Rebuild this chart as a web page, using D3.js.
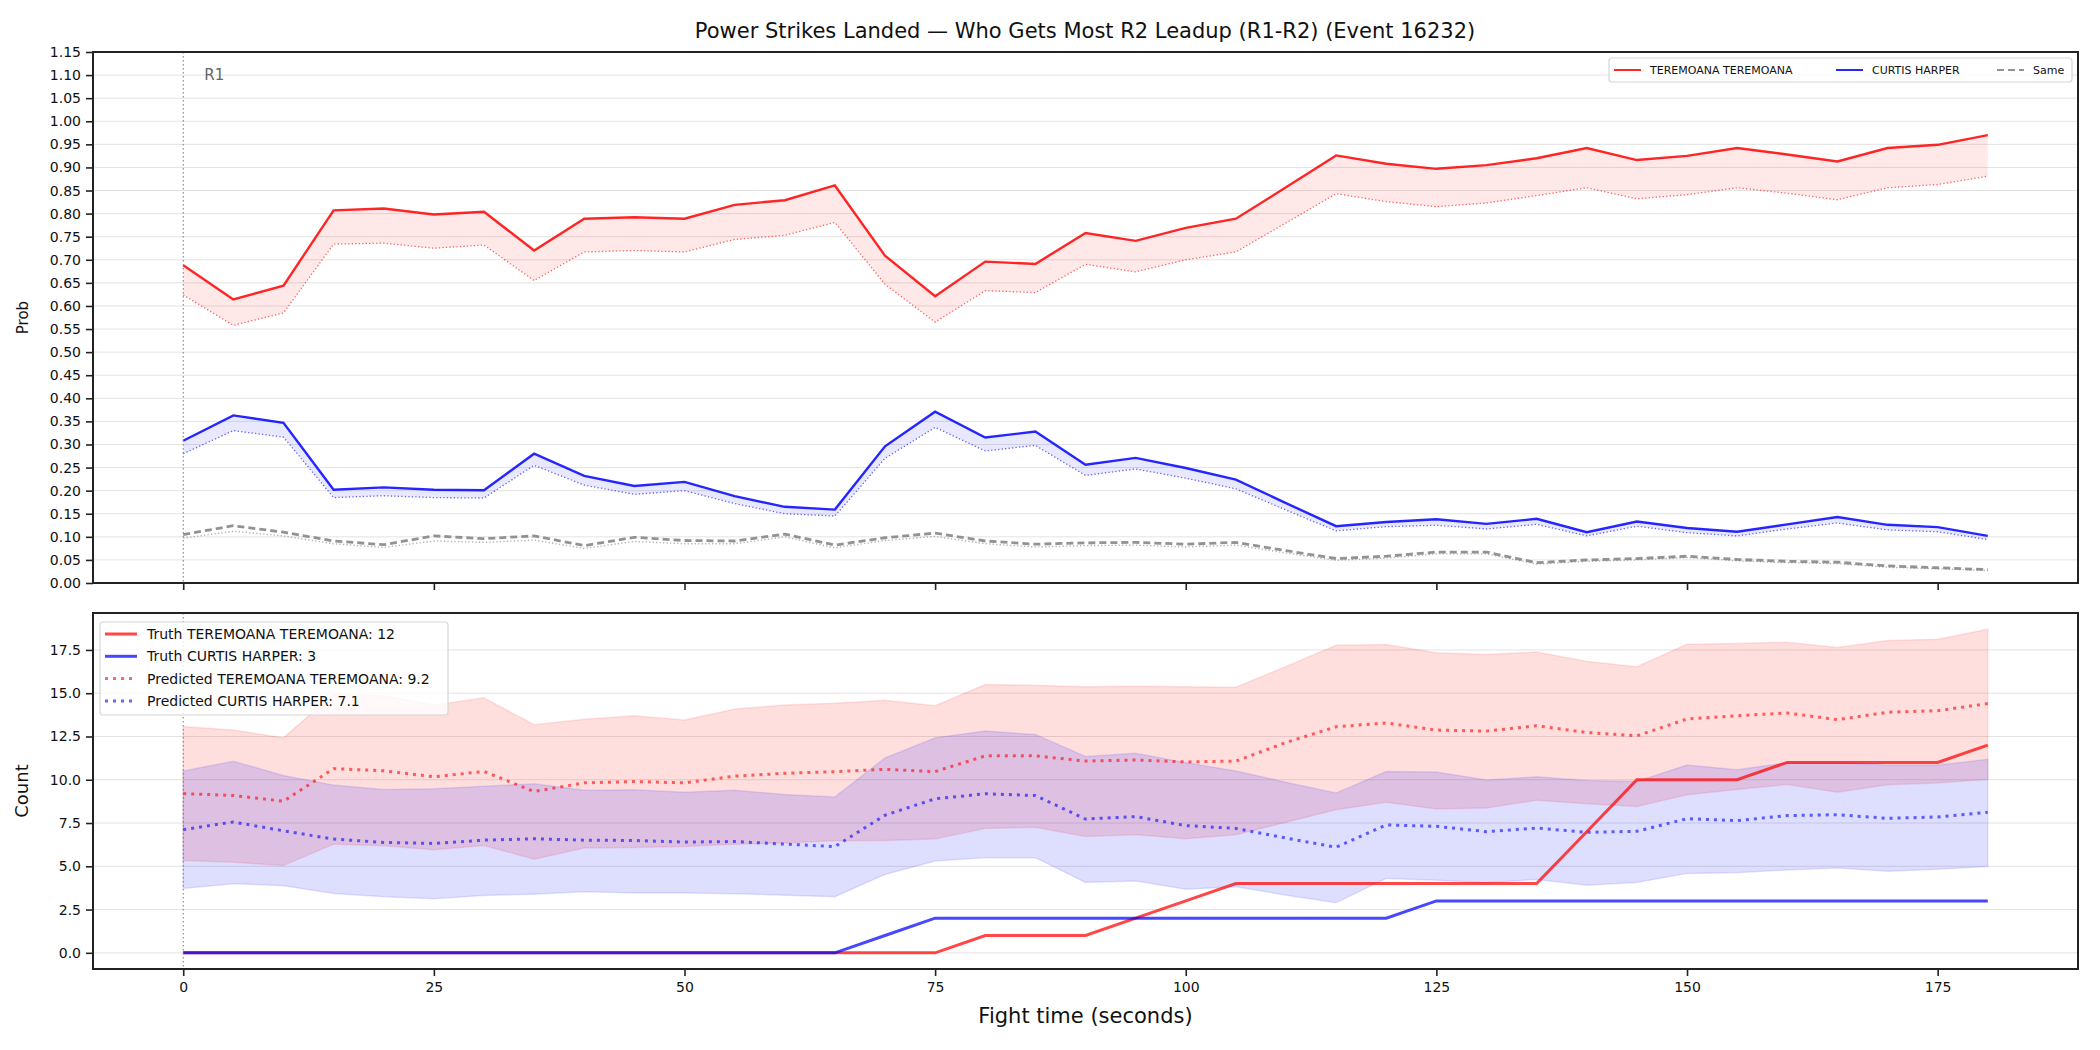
<!DOCTYPE html>
<html>
<head>
<meta charset="utf-8">
<script src="https://cdn.jsdelivr.net/npm/d3@7"></script>
<style>
  body { margin: 0; background: #fff; }
  svg { font-family: "DejaVu Sans", sans-serif; }
</style>
</head>
<body>
<div id="chart"></div>
<script>
// fight time, seconds
var times = d3.range(0, 181, 5);

// top panel: probability of landing most strikes
var redProb = [0.688, 0.614, 0.644, 0.807, 0.811, 0.798, 0.804, 0.720, 0.789, 0.792, 0.789, 0.819, 0.829, 0.861, 0.709, 0.621, 0.696, 0.691, 0.758, 0.741, 0.769, 0.789, 0.857, 0.926, 0.908, 0.897, 0.905, 0.920, 0.942, 0.916, 0.925, 0.942, 0.928, 0.913, 0.942, 0.949, 0.970];
var redProbLo = [0.624, 0.558, 0.585, 0.734, 0.736, 0.725, 0.732, 0.655, 0.717, 0.720, 0.717, 0.744, 0.753, 0.781, 0.647, 0.565, 0.633, 0.629, 0.690, 0.674, 0.700, 0.717, 0.780, 0.843, 0.826, 0.815, 0.823, 0.839, 0.856, 0.832, 0.841, 0.856, 0.844, 0.830, 0.856, 0.863, 0.881];
var blueProb = [0.308, 0.363, 0.347, 0.202, 0.207, 0.202, 0.201, 0.280, 0.232, 0.210, 0.219, 0.188, 0.165, 0.159, 0.296, 0.371, 0.315, 0.328, 0.256, 0.271, 0.249, 0.224, 0.173, 0.123, 0.132, 0.138, 0.128, 0.139, 0.110, 0.133, 0.119, 0.111, 0.127, 0.143, 0.126, 0.121, 0.102];
var blueProbLo = [0.280, 0.330, 0.316, 0.185, 0.189, 0.185, 0.184, 0.255, 0.212, 0.192, 0.200, 0.172, 0.150, 0.145, 0.270, 0.337, 0.286, 0.298, 0.233, 0.247, 0.227, 0.204, 0.158, 0.113, 0.122, 0.125, 0.117, 0.127, 0.102, 0.123, 0.109, 0.102, 0.117, 0.130, 0.115, 0.111, 0.094];
var sameProb = [0.105, 0.124, 0.110, 0.091, 0.083, 0.102, 0.096, 0.102, 0.081, 0.099, 0.092, 0.091, 0.106, 0.082, 0.098, 0.108, 0.091, 0.084, 0.087, 0.088, 0.084, 0.088, 0.070, 0.053, 0.058, 0.067, 0.067, 0.044, 0.050, 0.053, 0.058, 0.051, 0.047, 0.045, 0.037, 0.033, 0.029];
var sameProbLo = [0.097, 0.112, 0.102, 0.085, 0.077, 0.091, 0.088, 0.093, 0.075, 0.090, 0.085, 0.085, 0.100, 0.076, 0.092, 0.101, 0.085, 0.078, 0.081, 0.082, 0.078, 0.082, 0.065, 0.049, 0.054, 0.063, 0.063, 0.041, 0.047, 0.050, 0.055, 0.048, 0.044, 0.042, 0.034, 0.031, 0.027];

// bottom panel: counts
var redTruth = [0, 0, 0, 0, 0, 0, 0, 0, 0, 0, 0, 0, 0, 0, 0, 0, 1, 1, 1, 2, 3, 4, 4, 4, 4, 4, 4, 4, 7, 10, 10, 10, 11, 11, 11, 11, 12];
var blueTruth = [0, 0, 0, 0, 0, 0, 0, 0, 0, 0, 0, 0, 0, 0, 1, 2, 2, 2, 2, 2, 2, 2, 2, 2, 2, 3, 3, 3, 3, 3, 3, 3, 3, 3, 3, 3, 3];
var redPred = [9.20, 9.09, 8.76, 10.64, 10.52, 10.17, 10.48, 9.32, 9.82, 9.90, 9.82, 10.21, 10.37, 10.47, 10.60, 10.47, 11.38, 11.38, 11.08, 11.14, 11.03, 11.08, 12.15, 13.06, 13.28, 12.87, 12.81, 13.12, 12.73, 12.54, 13.51, 13.70, 13.86, 13.47, 13.90, 13.99, 14.40];
var redLo = [5.33, 5.23, 5.04, 6.28, 6.18, 5.95, 6.20, 5.41, 6.05, 6.08, 6.14, 6.28, 6.34, 6.47, 6.49, 6.57, 7.19, 7.25, 6.72, 6.82, 6.59, 6.82, 7.54, 8.27, 8.70, 8.31, 8.37, 8.82, 8.62, 8.45, 9.13, 9.44, 9.73, 9.28, 9.71, 9.81, 10.02];
var redHi = [13.08, 12.87, 12.42, 14.95, 14.85, 14.32, 14.73, 13.18, 13.50, 13.70, 13.45, 14.09, 14.32, 14.42, 14.59, 14.28, 15.50, 15.46, 15.38, 15.40, 15.38, 15.35, 16.55, 17.77, 17.81, 17.34, 17.23, 17.38, 16.84, 16.53, 17.83, 17.87, 17.95, 17.64, 18.04, 18.12, 18.70];
var bluePred = [7.12, 7.56, 7.05, 6.57, 6.38, 6.32, 6.51, 6.59, 6.51, 6.49, 6.40, 6.43, 6.28, 6.14, 7.95, 8.90, 9.19, 9.09, 7.73, 7.87, 7.35, 7.19, 6.63, 6.10, 7.39, 7.31, 7.00, 7.21, 6.96, 7.02, 7.75, 7.64, 7.93, 7.98, 7.77, 7.85, 8.12];
var blueLo = [3.72, 3.99, 3.88, 3.43, 3.24, 3.12, 3.31, 3.39, 3.53, 3.45, 3.45, 3.41, 3.33, 3.24, 4.53, 5.31, 5.50, 5.50, 4.07, 4.15, 3.68, 3.82, 3.33, 2.89, 4.30, 4.20, 4.05, 4.24, 3.90, 4.07, 4.59, 4.63, 4.79, 4.90, 4.71, 4.83, 4.98];
var blueHi = [10.50, 11.07, 10.25, 9.69, 9.44, 9.48, 9.63, 9.77, 9.40, 9.42, 9.28, 9.40, 9.15, 9.01, 11.26, 12.42, 12.81, 12.62, 11.34, 11.53, 10.99, 10.50, 9.86, 9.24, 10.47, 10.45, 9.98, 10.17, 9.96, 9.90, 10.85, 10.58, 10.99, 10.99, 10.85, 10.85, 11.18];

var redName = "TEREMOANA TEREMOANA";
var blueName = "CURTIS HARPER";
var probTicks = d3.range(0, 23.5).map(function (i) { return i * 0.05; });
var countTicks = [0, 2.5, 5, 7.5, 10, 12.5, 15, 17.5];
var timeTicks = [0, 25, 50, 75, 100, 125, 150, 175];

var width = 2100, height = 1050;
var left = 93, right = 2078;
var top1 = 52, bottom1 = 583, top2 = 613, bottom2 = 969;

var svg = d3.select("#chart").append("svg").attr("width", width).attr("height", height);

var x = d3.scaleLinear().domain([-9, 189]).range([left, right]);
var y1 = d3.scaleLinear().domain([0, 1.15]).range([bottom1, top1]);
var cMax = d3.max(redHi.concat(blueHi)), cMin = 0;
var pad = (cMax - cMin) * 0.05;
var y2 = d3.scaleLinear().domain([cMin - pad, cMax + pad]).range([bottom2, top2]);

function rows(a, b) {
    return times.map(function (t, i) { return { t: t, a: a[i], b: b ? b[i] : null }; });
}

function drawPanel(g, yScale, ticks, fmt, top, bottom) {
    // grid
    g.append("g").selectAll("line").data(ticks).join("line")
        .attr("x1", left).attr("x2", right)
        .attr("y1", function (d) { return yScale(d); }).attr("y2", function (d) { return yScale(d); })
        .attr("stroke", "#e3e3e3").attr("stroke-width", 1);
    var ya = g.append("g").attr("transform", "translate(" + left + ",0)")
        .call(d3.axisLeft(yScale).tickValues(ticks).tickFormat(fmt).tickSize(7).tickPadding(5));
    ya.select(".domain").remove();
    var xa = g.append("g").attr("transform", "translate(0," + bottom + ")")
        .call(d3.axisBottom(x).tickValues(timeTicks).tickSize(7).tickPadding(6));
    xa.select(".domain").remove();
    g.selectAll(".tick line").attr("stroke", "#222").attr("stroke-width", 1.6);
    g.selectAll(".tick text").attr("font-size", 14).attr("fill", "#111").attr("font-family", "DejaVu Sans");
    return xa;
}

function frame(g, top, bottom) {
    g.append("rect").attr("x", left).attr("y", top).attr("width", right - left).attr("height", bottom - top)
        .attr("fill", "none").attr("stroke", "#222").attr("stroke-width", 2);
}

// ---------- top panel ----------
var gTop = svg.append("g");
var xaTop = drawPanel(gTop, y1, probTicks, d3.format(".2f"), top1, bottom1);
xaTop.selectAll(".tick text").remove();

var line1 = d3.line().x(function (d) { return x(d.t); }).y(function (d) { return y1(d.a); });
var band1 = d3.area().x(function (d) { return x(d.t); })
    .y0(function (d) { return y1(d.b); }).y1(function (d) { return y1(d.a); });

gTop.append("path").datum(rows(redProb, redProbLo)).attr("d", band1).attr("fill", "red").attr("fill-opacity", 0.09);
gTop.append("path").datum(rows(blueProb, blueProbLo)).attr("d", band1).attr("fill", "blue").attr("fill-opacity", 0.09);

gTop.append("path").datum(rows(redProbLo)).attr("d", line1).attr("fill", "none")
    .attr("stroke", "red").attr("stroke-opacity", 0.6).attr("stroke-width", 1.3).attr("stroke-dasharray", "1.3,2.2");
gTop.append("path").datum(rows(blueProbLo)).attr("d", line1).attr("fill", "none")
    .attr("stroke", "blue").attr("stroke-opacity", 0.6).attr("stroke-width", 1.3).attr("stroke-dasharray", "1.3,2.2");
gTop.append("path").datum(rows(sameProbLo)).attr("d", line1).attr("fill", "none")
    .attr("stroke", "gray").attr("stroke-opacity", 0.6).attr("stroke-width", 1.4).attr("stroke-dasharray", "1.3,2.2");

gTop.append("path").datum(rows(redProb)).attr("d", line1).attr("fill", "none")
    .attr("stroke", "red").attr("stroke-opacity", 0.85).attr("stroke-width", 2.4);
gTop.append("path").datum(rows(blueProb)).attr("d", line1).attr("fill", "none")
    .attr("stroke", "blue").attr("stroke-opacity", 0.85).attr("stroke-width", 2.4);
gTop.append("path").datum(rows(sameProb)).attr("d", line1).attr("fill", "none")
    .attr("stroke", "gray").attr("stroke-opacity", 0.85).attr("stroke-width", 2.8).attr("stroke-dasharray", "7,4");

gTop.append("line").attr("x1", x(0)).attr("x2", x(0)).attr("y1", top1).attr("y2", bottom1)
    .attr("stroke", "#777").attr("stroke-width", 1).attr("stroke-dasharray", "1.5,2.5");
gTop.append("text").attr("x", x(0) + 21).attr("y", y1(1.10) + 5).attr("font-size", 15).attr("fill", "#666").text("R1");
frame(gTop, top1, bottom1);

gTop.append("text").attr("x", 28).attr("y", (top1 + bottom1) / 2).attr("transform", "rotate(-90,28," + (top1 + bottom1) / 2 + ")")
    .attr("text-anchor", "middle").attr("font-size", 15).attr("fill", "#111").text("Prob");

// top legend
var lg1 = svg.append("g");
lg1.append("rect").attr("x", 1609).attr("y", 58).attr("width", 463).attr("height", 24).attr("rx", 3)
    .attr("fill", "white").attr("fill-opacity", 0.8).attr("stroke", "#d6d6d6").attr("stroke-width", 1.2);
var items1 = [
    { name: redName, color: "red", dash: null, x: 1614 },
    { name: blueName, color: "blue", dash: null, x: 1836 },
    { name: "Same", color: "gray", dash: "7,4", x: 1997 }
];
items1.forEach(function (it) {
    lg1.append("line").attr("x1", it.x).attr("x2", it.x + 27).attr("y1", 70).attr("y2", 70)
        .attr("stroke", it.color).attr("stroke-opacity", 0.85).attr("stroke-width", 2)
        .attr("stroke-dasharray", it.dash);
    lg1.append("text").attr("x", it.x + 36).attr("y", 74).attr("font-size", 11).attr("fill", "#111").text(it.name);
});

// ---------- bottom panel ----------
var gBot = svg.append("g");
drawPanel(gBot, y2, countTicks, d3.format(".1f"), top2, bottom2);

var line2 = d3.line().x(function (d) { return x(d.t); }).y(function (d) { return y2(d.a); });
var band2 = d3.area().x(function (d) { return x(d.t); })
    .y0(function (d) { return y2(d.b); }).y1(function (d) { return y2(d.a); });

gBot.append("path").datum(rows(redHi, redLo)).attr("d", band2).attr("fill", "red").attr("fill-opacity", 0.13)
    .attr("stroke", "red").attr("stroke-opacity", 0.1).attr("stroke-width", 1.5);
gBot.append("path").datum(rows(blueHi, blueLo)).attr("d", band2).attr("fill", "blue").attr("fill-opacity", 0.13)
    .attr("stroke", "blue").attr("stroke-opacity", 0.1).attr("stroke-width", 1.5);

gBot.append("path").datum(rows(redPred)).attr("d", line2).attr("fill", "none")
    .attr("stroke", "red").attr("stroke-opacity", 0.6).attr("stroke-width", 3).attr("stroke-dasharray", "3,5");
gBot.append("path").datum(rows(bluePred)).attr("d", line2).attr("fill", "none")
    .attr("stroke", "blue").attr("stroke-opacity", 0.6).attr("stroke-width", 3).attr("stroke-dasharray", "3,5");
gBot.append("path").datum(rows(redTruth)).attr("d", line2).attr("fill", "none")
    .attr("stroke", "red").attr("stroke-opacity", 0.72).attr("stroke-width", 3);
gBot.append("path").datum(rows(blueTruth)).attr("d", line2).attr("fill", "none")
    .attr("stroke", "blue").attr("stroke-opacity", 0.72).attr("stroke-width", 3);

gBot.append("line").attr("x1", x(0)).attr("x2", x(0)).attr("y1", top2).attr("y2", bottom2)
    .attr("stroke", "#777").attr("stroke-width", 1).attr("stroke-dasharray", "1.5,2.5");
frame(gBot, top2, bottom2);

gBot.append("text").attr("x", 28).attr("y", (top2 + bottom2) / 2).attr("transform", "rotate(-90,28," + (top2 + bottom2) / 2 + ")")
    .attr("text-anchor", "middle").attr("font-size", 18).attr("fill", "#111").text("Count");
svg.append("text").attr("x", (left + right) / 2).attr("y", 1023).attr("text-anchor", "middle")
    .attr("font-size", 21).attr("fill", "#111").text("Fight time (seconds)");

// bottom legend
var lg2 = svg.append("g");
lg2.append("rect").attr("x", 100).attr("y", 622).attr("width", 348).attr("height", 93).attr("rx", 3)
    .attr("fill", "white").attr("fill-opacity", 0.8).attr("stroke", "#d6d6d6").attr("stroke-width", 1.2);
var items2 = [
    { name: "Truth " + redName + ": " + redTruth[redTruth.length - 1], color: "red", dash: null, op: 0.72 },
    { name: "Truth " + blueName + ": " + blueTruth[blueTruth.length - 1], color: "blue", dash: null, op: 0.72 },
    { name: "Predicted " + redName + ": " + redPred[0].toFixed(1), color: "red", dash: "3,5", op: 0.6 },
    { name: "Predicted " + blueName + ": " + bluePred[0].toFixed(1), color: "blue", dash: "3,5", op: 0.6 }
];
items2.forEach(function (it, i) {
    var yy = 634 + i * 22.3;
    lg2.append("line").attr("x1", 105).attr("x2", 137).attr("y1", yy).attr("y2", yy)
        .attr("stroke", it.color).attr("stroke-opacity", it.op).attr("stroke-width", 3)
        .attr("stroke-dasharray", it.dash);
    lg2.append("text").attr("x", 147).attr("y", yy + 5).attr("font-size", 14).attr("fill", "#111").text(it.name);
});

// title
svg.append("text").attr("x", 1085).attr("y", 38).attr("text-anchor", "middle")
    .attr("font-size", 21).attr("fill", "#111")
    .text("Power Strikes Landed \u2014 Who Gets Most R2 Leadup (R1-R2) (Event 16232)");
</script>
</body>
</html>
